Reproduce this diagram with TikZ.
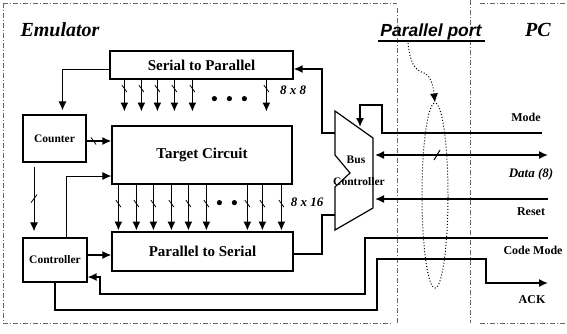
\documentclass[tikz,border=0pt]{standalone}
\usepackage{fontspec}
\setmainfont{Liberation Serif}
\newfontfamily\portfont{Liberation Sans}
\usetikzlibrary{arrows.meta,calc,shapes.geometric}
\begin{document}
\begin{tikzpicture}[x=1pt,y=-1pt,
 blk/.style={draw,line width=1.2pt,inner sep=0pt,font=\bfseries\fontsize{15}{17}\selectfont},
 sblk/.style={draw,line width=1.2pt,inner sep=0pt,font=\bfseries\fontsize{11.5}{13}\selectfont},
 wire/.style={line width=1.5pt},
 thinwire/.style={line width=1pt},
 arr/.style={-{Latex[length=9pt,width=8pt]}},
 darr/.style={{Latex[length=9pt,width=8pt]}-{Latex[length=9pt,width=8pt]}},
 frame/.style={line width=0.6pt,dash pattern=on 5pt off 2pt on 1pt off 2pt,black!60},
 lbl/.style={font=\bfseries\fontsize{12}{14}\selectfont,inner sep=0pt},
 ilbl/.style={font=\bfseries\itshape\fontsize{13}{15}\selectfont,inner sep=0pt},
 title/.style={font=\bfseries\itshape\fontsize{20}{22}\selectfont,inner sep=0pt},
 tick/.style={line width=0.8pt},
 busdot/.style={fill=black,draw=none}]

\useasboundingbox (0,0) rectangle (567,333);

% frame
\draw[frame] (3,3) -- (3,323);
\draw[frame] (3,3) -- (397,3);
\draw[frame] (480,3) -- (567,3);
\draw[frame] (3,323) -- (393,323);
\draw[frame] (480,323) -- (567,323);
\draw[frame] (397,8) -- (397,323);
\draw[frame] (470,0) -- (470,323);

% titles
\node[title] (emu) at (60,30) {Emulator};
\node[title] (pc) at (538,30) {PC};
\node[inner sep=0pt,font=\portfont\bfseries\itshape\fontsize{17.5}{19}\selectfont] (port) at (431,32) {Parallel port};
\coordinate (ulA) at (378,41);
\coordinate (ulB) at (485,41);
\draw[line width=1.2pt] (ulA) -- (ulB);

% blocks
\node[blk,minimum width=183pt,minimum height=28pt] (sp) at (201.5,65) {Serial to Parallel};
\node[blk,minimum width=180pt,minimum height=58pt] (tc) at (202,155) {Target Circuit};
\node[blk,minimum width=181pt,minimum height=39pt] (ps) at (202.5,251.5) {Parallel to Serial};
\node[sblk,minimum width=63pt,minimum height=47pt] (cnt) at (54.5,138.5) {Counter};
\node[sblk,minimum width=64pt,minimum height=44pt] (ctl) at (55,260) {Controller};

% bus controller
\coordinate (b1) at (335,111);
\coordinate (b2) at (373,138);
\coordinate (b3) at (373,208);
\coordinate (b4) at (335,230);
\coordinate (n1) at (335,187);
\coordinate (n2) at (350,173);
\coordinate (n3) at (335,155);
\draw[line width=1.2pt,line join=miter] (b1) -- (b2) -- (b3) -- (b4) -- (n1) -- (n2) -- (n3) -- cycle;
\node[sblk,draw=none] (busA) at (356,160) {Bus};
\node[sblk,draw=none] (busB) at (359,182) {Controller};

% serial to parallel bus (8 x 8)
\foreach \d in {15,32,48,65,83,157} {
  \draw[wire,arr] ($(sp.south west)+(\d,0)$) -- ($(sp.south west)+(\d,32)$);
  \draw[tick] ($(sp.south west)+(\d-2.5,5.5)$) -- ($(sp.south west)+(\d+2.5,12.5)$);
}
\foreach \d in {105,120,135} \fill[busdot] ($(sp.south west)+(\d,19)$) circle (2.6pt);
\node[ilbl] (l88) at (293,90) {8 x 8};

% target circuit to parallel to serial bus (8 x 16)
\foreach \d in {7,25,42,60,77,95,136,151,170} {
  \draw[wire,arr] ($(tc.south west)+(\d,0)$) -- ($(tc.south west)+(\d,46)$);
  \draw[tick] ($(tc.south west)+(\d-2.5,15.5)$) -- ($(tc.south west)+(\d+2.5,22.5)$);
}
\foreach \d in {108,123} \fill[busdot] ($(tc.south west)+(\d,18)$) circle (2.6pt);
\node[ilbl] (l816) at (307,202) {8 x 16};

% serial to parallel -> counter
\draw[thinwire,arr] ([yshift=-4pt]sp.west) -| ([xshift=8pt,yshift=4pt]cnt.north);

% counter -> target circuit
\draw[wire,arr] ([yshift=-2.5pt]cnt.east) -- ([yshift=-2.5pt]cnt.east -| tc.west);
\draw[tick] ([xshift=4.5pt,yshift=1pt]cnt.east) -- ([xshift=9.5pt,yshift=-6pt]cnt.east);

% counter -> controller
\coordinate (cc1) at ($(cnt.south)+(-20.5,4)$);
\coordinate (cc2) at ($(ctl.north)+(-21,-6)$);
\draw[thinwire,arr] (cc1) -- (cc2);
\draw[tick] ($(cc1)+(-3,36)$) -- ($(cc1)+(3,28)$);

% controller -> target circuit
\draw[thinwire,arr] ([xshift=11pt]ctl.north) |- ([yshift=-21pt]tc.west);

% controller -> parallel to serial
\draw[wire,arr] ([yshift=5pt]ctl.east) -- ([yshift=5pt]ctl.east -| ps.west);

% bus controller <-> blocks
\coordinate (bL1) at (335,133);
\coordinate (bL2) at (335,215);
\draw[wire,arr] (bL1) -- (322,133) -- (322,69) -- ([yshift=-4pt]sp.east);
\draw[wire] ([yshift=-2.5pt]ps.east) -- (322,254) -- (322,215) -- (bL2);

% PC side signals
\coordinate (modeR) at (542,133);
\coordinate (dataR) at (548,155);
\coordinate (bR1) at (375,155);
\coordinate (resetR) at (548,199);
\coordinate (bR2) at (375,199);
\coordinate (cmR) at (548,238);
\coordinate (ackR) at (548,283);

\draw[wire,arr] (modeR) -- (382,133) -- (382,105) -- (360,105) -- (360,127);
\draw[wire,darr] (bR1) -- (dataR);
\draw[tick,line width=1pt] (434,160) -- (440,150);
\draw[wire,arr] (resetR) -- (bR2);
\draw[wire,arr] (cmR) -| (365,294) -| (100,277) -- ([yshift=-17pt]ctl.east);
\draw[wire,arr] (ctl.south) |- (377,310) |- (486,259) |- (ackR);

\node[lbl] (lmode) at (526,117) {Mode};
\node[ilbl] (ldata) at (531,174) {Data (8)};
\node[lbl] (lreset) at (531,212) {Reset};
\node[lbl] (lcm) at (533,250) {Code Mode};
\node[lbl] (lack) at (532,300) {ACK};

% parallel port ellipse and pointer
\node[draw,dotted,line width=1pt,ellipse,minimum width=26pt,minimum height=185pt,inner sep=0pt] (ell) at (435,195.5) {};
\draw[dotted,line width=1pt,-{Latex[length=9pt,width=8pt]}] (408,43) .. controls (410,62) and (414,70) .. (424,73) .. controls (431,76) and (433,85) .. (ell.north);
\end{tikzpicture}
\end{document}
